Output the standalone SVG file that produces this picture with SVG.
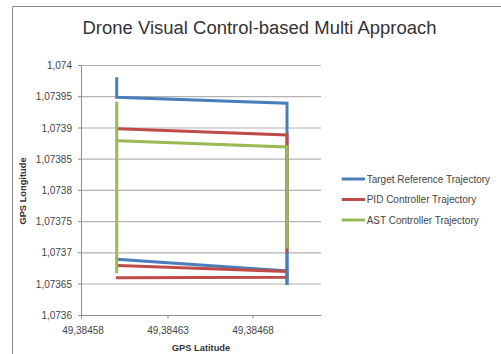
<svg xmlns="http://www.w3.org/2000/svg" width="501" height="354" viewBox="0 0 501 354">
<style>
.t{font-family:"Liberation Sans",Arial,sans-serif;fill:#333}
.tick{font-size:10px;fill:#444}
.ax{font-size:9.3px;font-weight:bold;fill:#333}
.grid{stroke:#b3b3b3;stroke-width:1.2}
.axis{stroke:#8c8c8c;stroke-width:1}
.s{fill:none;stroke-width:3;stroke-linejoin:miter;stroke-linecap:butt}
.blue{stroke:#4a7ebb}
.red{stroke:#be4b48}
.green{stroke:#98b954}
</style>
<rect x="0" y="0" width="501" height="354" fill="#fff"/>
<path d="M12.5,354 V6.5 H501" fill="none" stroke="#8c8c8c" stroke-width="1"/>
<text class="t" x="259.5" y="33.5" font-size="17.6" text-anchor="middle" fill="#222" textLength="354" lengthAdjust="spacingAndGlyphs">Drone Visual Control-based Multi Approach</text>
<g id="gridlines">
<line class="grid" x1="81" y1="65.5" x2="321" y2="65.5"/>
<line class="grid" x1="81" y1="96.7" x2="321" y2="96.7"/>
<line class="grid" x1="81" y1="128" x2="321" y2="128"/>
<line class="grid" x1="81" y1="159.2" x2="321" y2="159.2"/>
<line class="grid" x1="81" y1="190.4" x2="321" y2="190.4"/>
<line class="grid" x1="81" y1="221.6" x2="321" y2="221.6"/>
<line class="grid" x1="81" y1="252.8" x2="321" y2="252.8"/>
<line class="grid" x1="81" y1="284" x2="321" y2="284"/>
</g>
<g id="axes">
<line class="axis" x1="81.5" y1="65" x2="81.5" y2="315.5"/>
<line class="axis" x1="81" y1="315.5" x2="321" y2="315.5"/>
<path class="axis" d="M78,65.5H81.5M78,96.7H81.5M78,128H81.5M78,159.2H81.5M78,190.4H81.5M78,221.6H81.5M78,252.8H81.5M78,284H81.5M78,315.5H81.5M81.5,315.5V318.5M168,315.5V318.5M253,315.5V318.5"/>
<g class="t tick" text-anchor="end">
<text x="72" y="69">1,074</text>
<text x="72" y="100.2">1,07395</text>
<text x="72" y="131.5">1,0739</text>
<text x="72" y="162.7">1,07385</text>
<text x="72" y="193.9">1,0738</text>
<text x="72" y="225.1">1,07375</text>
<text x="72" y="256.3">1,0737</text>
<text x="72" y="287.5">1,07365</text>
<text x="72" y="319">1,0736</text>
</g>
<g class="t tick" text-anchor="middle">
<text x="83" y="334">49,38458</text>
<text x="168" y="334">49,38463</text>
<text x="253" y="334">49,38468</text>
</g>
<text class="t ax" x="201" y="351" text-anchor="middle">GPS Latitude</text>
<text class="t ax" transform="translate(26,191) rotate(-90)" text-anchor="middle">GPS Longitude</text>
</g>
<g id="series">
<polyline id="target" class="s blue" points="116.7,77.3 116.7,97.3 287,103.3 287,285 287,271 116.7,259.3"/>
<polyline id="pid" class="s red" points="118,128.7 287,135 287,253"/>
<polyline id="pid2" class="s red" points="118,265.5 287,271.5 287,277.3 116,277.7"/>
<polyline id="ast" class="s green" points="116.7,101.7 116.7,273.3"/>
<polyline id="ast2" class="s green" points="118,140.7 287,147 287,248.5"/>
<line class="s blue" x1="287" y1="253" x2="287" y2="285"/>
</g>
<g id="legend">
<line class="s blue" x1="341.7" y1="179" x2="365" y2="179"/>
<line class="s red" x1="341.7" y1="199.5" x2="365" y2="199.5"/>
<line class="s green" x1="341.7" y1="220" x2="365" y2="220"/>
<g class="t tick" fill="#333">
<text x="366.7" y="182.5">Target Reference Trajectory</text>
<text x="366.7" y="203">PID Controller Trajectory</text>
<text x="366.7" y="223.5">AST Controller Trajectory</text>
</g>
</g>
</svg>
